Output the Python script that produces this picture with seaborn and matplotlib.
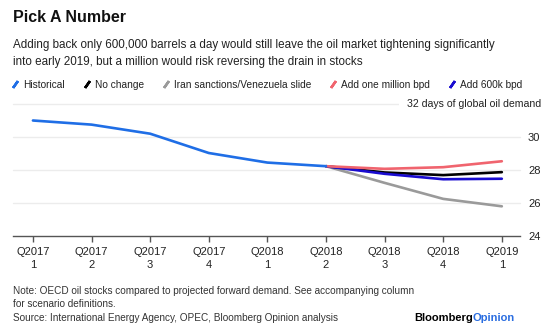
import matplotlib
matplotlib.use("Agg")
import matplotlib.pyplot as plt
from matplotlib.lines import Line2D
import seaborn as sns
import pandas as pd

quarters = ["Q2017\n1", "Q2017\n2", "Q2017\n3", "Q2017\n4", "Q2018\n1",
            "Q2018\n2", "Q2018\n3", "Q2018\n4", "Q2019\n1"]
historical = [31.0, 30.75, 30.2, 29.03, 28.45, 28.23]
scenario_quarters = ["Q2018\n2", "Q2018\n3", "Q2018\n4", "Q2019\n1"]
no_change = [28.23, 27.85, 27.69, 27.87]
iran_venezuela = [28.23, 27.22, 26.25, 25.8]
add_one_million = [28.23, 28.07, 28.17, 28.53]
add_600k = [28.23, 27.77, 27.44, 27.47]
y_ticks = [24, 26, 28, 30]

series_names = ["Historical", "No change", "Iran sanctions/Venezuela slide",
                "Add one million bpd", "Add 600k bpd"]
colors = ["#1f6ee6", "#000000", "#9a9a9a", "#f0646e", "#1a0cd0"]

rows = []
for q, v in zip(quarters, historical):
    rows.append(("Historical", quarters.index(q), v))
for name, vals in [("No change", no_change),
                   ("Iran sanctions/Venezuela slide", iran_venezuela),
                   ("Add one million bpd", add_one_million),
                   ("Add 600k bpd", add_600k)]:
    for q, v in zip(scenario_quarters, vals):
        rows.append((name, quarters.index(q), v))
df = pd.DataFrame(rows, columns=["series", "x", "value"])

sns.set_theme(style="white")
plt.rcParams["font.family"] = ["Liberation Sans", "DejaVu Sans"]

W, H = 560, 325
fig = plt.figure(figsize=(W / 100, H / 100), dpi=100)
ax = fig.add_axes([13 / W, 1 - 236 / H, (520 - 13) / W, (236 - 104) / H])

palette = dict(zip(series_names, colors))
draw_order = ["Iran sanctions/Venezuela slide", "No change", "Add 600k bpd",
              "Add one million bpd", "Historical"]
for name in draw_order:
    sub = df[df["series"] == name]
    sns.lineplot(data=sub, x="x", y="value", ax=ax, color=palette[name],
                 linewidth=1.9, legend=False, zorder=3)

ax.set_xlim(-0.34, 8.31)
ax.set_ylim(24, 32)
ax.set_xlabel("")
ax.set_ylabel("")
for s in ["top", "left", "right"]:
    ax.spines[s].set_visible(False)
ax.spines["bottom"].set_color("#555555")
ax.spines["bottom"].set_linewidth(1.0)
ax.set_xticks(range(len(quarters)))
ax.set_xticklabels(quarters, fontsize=8, color="#222222", linespacing=1.35)
ax.tick_params(axis="x", length=4, width=1, color="#555555", pad=4, bottom=True, direction="out")

ax.yaxis.tick_right()
ax.set_yticks(y_ticks)
ax.set_yticklabels([str(t) for t in y_ticks], fontsize=8, color="#222222")
ax.tick_params(axis="y", length=0, pad=5.8, right=False)
for t in y_ticks[1:] + [32]:
    ax.axhline(t, color="#ececec", linewidth=1.0, zorder=1, clip_on=False)
ax.text(541 / W, 1 - 104 / H, "32 days of global oil demand", transform=fig.transFigure,
        ha="right", va="center", fontsize=7.6, color="#222222",
        bbox=dict(facecolor="white", edgecolor="none", pad=6))

fig.text(13 / W, 1 - 18 / H, "Pick A Number", fontsize=11.5, fontweight="bold",
         ha="left", va="center", color="#111111")
fig.text(13 / W, 1 - 45 / H,
         "Adding back only 600,000 barrels a day would still leave the oil market tightening significantly",
         fontsize=8.35, ha="left", va="center", color="#222222")
fig.text(13 / W, 1 - 62 / H,
         "into early 2019, but a million would risk reversing the drain in stocks",
         fontsize=8.35, ha="left", va="center", color="#222222")

handles = [Line2D([], [], color=c, marker=(2, 2, -35), markersize=6, markeredgewidth=1.8,
                  linestyle="none") for c in colors]
fig.legend(handles, series_names, loc="center left", bbox_to_anchor=(12 / W, 1 - 85 / H),
           ncol=5, frameon=False, fontsize=7.3, handlelength=0.6, handletextpad=0.5,
           columnspacing=1.85, borderaxespad=0, borderpad=0, labelcolor="#222222")

fig.text(13 / W, 1 - 291 / H,
         "Note: OECD oil stocks compared to projected forward demand. See accompanying column",
         fontsize=7.2, ha="left", va="center", color="#333333")
fig.text(13 / W, 1 - 304 / H, "for scenario definitions.",
         fontsize=7.2, ha="left", va="center", color="#333333")
fig.text(13 / W, 1 - 318 / H, "Source: International Energy Agency, OPEC, Bloomberg Opinion analysis",
         fontsize=7.2, ha="left", va="center", color="#333333")
t1 = fig.text(414 / W, 1 - 318 / H, "Bloomberg", fontsize=8, fontweight="bold",
              ha="left", va="center", color="#000000")
fig.canvas.draw()
bb = t1.get_window_extent()
fig.text(bb.x1 / W, 1 - 318 / H, "Opinion", fontsize=8, fontweight="bold",
         ha="left", va="center", color="#2a6de0")

fig.savefig("out.png", dpi=100)
